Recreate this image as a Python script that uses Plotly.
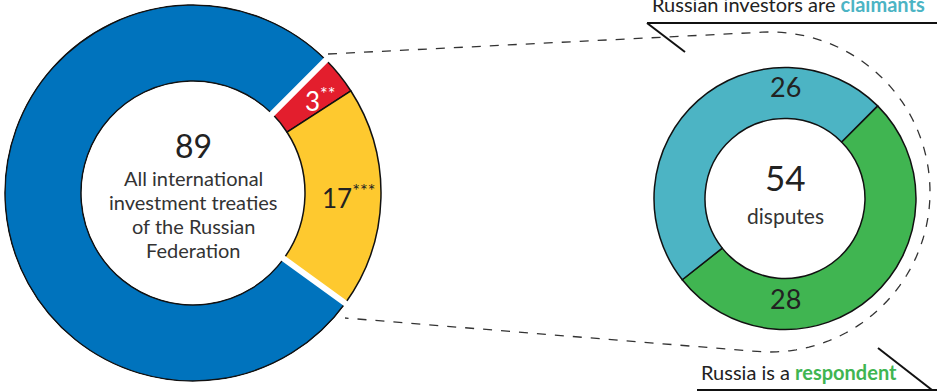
import math
import plotly.graph_objects as go

W, H = 937, 391

# ---- data ----
treaty_labels = ["3**", "17***", "other"]
treaty_values = [3, 17, 69]
treaty_colors = ["#e31e2d", "#fec92f", "#0073bd"]
treaties_total = 89

dispute_labels = ["Russia is a respondent", "Russian investors are claimants"]
dispute_values = [28, 26]
dispute_colors = ["#40b551", "#4cb4c4"]
disputes_total = 54

FONT = "Lato"
TXT = "#222222"


def px(x, y):
    return x / W, 1 - y / H


def dom(cx, cy, r):
    x0, y1 = px(cx - r, cy - r)
    x1, y0 = px(cx + r, cy + r)
    return dict(x=[x0, x1], y=[y0, y1])


fig = go.Figure()

# left donut
LCX, LCY, LR, LRI = 193, 193, 188, 112
fig.add_trace(go.Pie(
    labels=treaty_labels, values=treaty_values, sort=False, direction="clockwise",
    rotation=45, hole=LRI / LR, domain=dom(LCX, LCY, LR),
    marker=dict(colors=treaty_colors, line=dict(color="#111111", width=1.5)),
    textinfo="none", hoverinfo="label+value", showlegend=False,
))
# white separators between the blue slice and the rest
fig.add_trace(go.Pie(
    labels=treaty_labels, values=treaty_values, sort=False, direction="clockwise",
    rotation=45, hole=(LRI - 4) / (LR + 4), domain=dom(LCX, LCY, LR + 4),
    marker=dict(colors=["rgba(0,0,0,0)"] * 3,
                line=dict(color="white", width=[0, 0, 6])),
    textinfo="none", hoverinfo="skip", showlegend=False,
))

# right donut
RCX, RCY, RR, RRI = 785, 198.5, 131, 80
fig.add_trace(go.Pie(
    labels=dispute_labels, values=dispute_values, sort=False, direction="clockwise",
    rotation=45, hole=RRI / RR, domain=dom(RCX, RCY, RR),
    marker=dict(colors=dispute_colors, line=dict(color="#111111", width=1.5)),
    textinfo="none", hoverinfo="label+value", showlegend=False,
))

shapes = []

# dashed connector around the right donut
CX, CY, CR = 770, 192, 160
P1 = (328, 54)
P2 = (345, 318)


def tangent_angle(P, sign):
    dx, dy = P[0] - CX, P[1] - CY
    d = math.hypot(dx, dy)
    phi = math.atan2(dy, dx)
    a = math.acos(CR / d)
    return phi + sign * a


t1 = tangent_angle(P1, +1)
t2 = tangent_angle(P2, -1)
if t2 < t1:
    t2 += 2 * math.pi
pts = [P1]
n = 80
for i in range(n + 1):
    t = t1 + (t2 - t1) * i / n
    pts.append((CX + CR * math.cos(t), CY + CR * math.sin(t)))
pts.append(P2)
path = "M " + " L ".join(f"{px(x, y)[0]:.5f},{px(x, y)[1]:.5f}" for x, y in pts)
shapes.append(dict(type="path", path=path, xref="paper", yref="paper",
                   line=dict(color="#333333", width=1.3, dash="dash")))


def seg(a, b, w=2):
    (x0, y0), (x1, y1) = px(*a), px(*b)
    return dict(type="line", xref="paper", yref="paper", x0=x0, y0=y0, x1=x1, y1=y1,
                line=dict(color="#111111", width=w))


shapes += [seg((647, 23), (937, 23)), seg((647, 23), (685, 52)),
           seg((697, 390), (937, 390)), seg((878, 348), (932, 390))]

ann = []


def text(x, y, s, size, color=TXT, xanchor="center"):
    xx, yy = px(x, y)
    ann.append(dict(x=xx, y=yy, xref="paper", yref="paper", text=s, showarrow=False,
                    font=dict(family=FONT, size=size, color=color),
                    xanchor=xanchor, yanchor="middle"))


text(LCX, 145, str(treaties_total), 32)
for i, line in enumerate(["All international", "investment treaties",
                          "of the Russian", "Federation"]):
    text(LCX, 178 + i * 24, line, 20, "#333333")
text(320, 99, "3<sup>**</sup>", 26, "white")
text(348, 196, "17<sup>***</sup>", 26)

text(RCX, 177, str(disputes_total), 35)
text(RCX, 215, "disputes", 21, "#333333")
text(RCX, 87, str(dispute_values[1]), 27)
text(RCX, 298, str(dispute_values[0]), 27)

text(788, 4, "Russian investors are <b><span style='color:#4cb4c4'>claimants</span></b>", 20, "#222222")
text(799, 372, "Russia is a <b><span style='color:#40b551'>respondent</span></b>", 20, "#222222")

fig.update_layout(
    width=W, height=H, margin=dict(l=0, r=0, t=0, b=0),
    paper_bgcolor="white", plot_bgcolor="white",
    shapes=shapes, annotations=ann, showlegend=False,
)
fig.write_html("out.html")
